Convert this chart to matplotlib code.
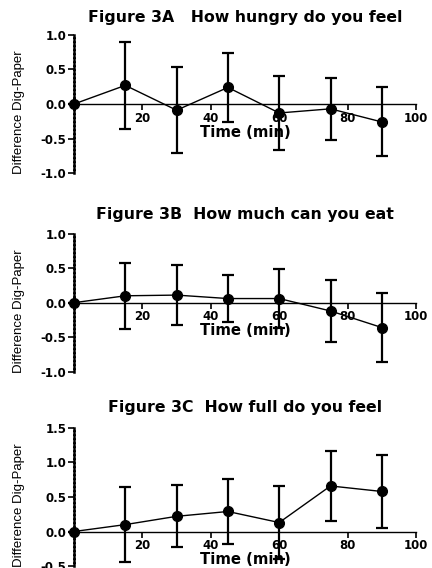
import numpy as np
import matplotlib
matplotlib.use('Agg')
import matplotlib.pyplot as plt

time_min = [0, 15, 30, 45, 60, 75, 90]

hungry_mean = [0, 0.27, -0.09, 0.24, -0.13, -0.07, -0.26]
hungry_err = [0, 0.63, 0.62, 0.50, 0.54, 0.45, 0.50]

eat_mean = [0, 0.10, 0.11, 0.06, 0.06, -0.12, -0.36]
eat_err = [0, 0.48, 0.43, 0.34, 0.43, 0.45, 0.50]

full_mean = [0, 0.10, 0.22, 0.29, 0.13, 0.66, 0.58]
full_err = [0, 0.54, 0.45, 0.47, 0.53, 0.51, 0.53]

titles = ['Figure 3A   How hungry do you feel',
          'Figure 3B  How much can you eat',
          'Figure 3C  How full do you feel']

panels = [
    (hungry_mean, hungry_err, (-1.0, 1.0), [-1.0, -0.5, 0.0, 0.5, 1.0]),
    (eat_mean, eat_err, (-1.0, 1.0), [-1.0, -0.5, 0.0, 0.5, 1.0]),
    (full_mean, full_err, (-0.5, 1.5), [-0.5, 0.0, 0.5, 1.0, 1.5]),
]

bottoms = [0.6954, 0.3456, 0.0035]
title_pads = [9, 10.5, 11.5]

bold_font = 'DejaVu Sans'

fig = plt.figure(figsize=(4.32, 5.68), dpi=100)

for (mean, err, ylim, yt), title, b, tp in zip(panels, titles, bottoms, title_pads):
    ax = fig.add_axes([0.1713, b, 0.7917, 0.243])
    ax.errorbar(time_min, mean, yerr=err, fmt='o-', color='black',
                ms=7, lw=1, elinewidth=1.6, capsize=4, capthick=1.6,
                clip_on=False, zorder=3)
    ax.set_xlim(0, 100)
    ax.set_ylim(*ylim)
    ax.set_xticks([20, 40, 60, 80, 100])
    ax.set_yticks(yt)
    ax.set_yticklabels(['%.1f' % v for v in yt])
    ax.spines['top'].set_visible(False)
    ax.spines['right'].set_visible(False)
    ax.spines['bottom'].set_position(('data', 0))
    ax.spines['left'].set_position(('data', 0))
    ax.spines['bottom'].set_linestyle((0, (1, 1)))
    ax.spines['bottom'].set_linewidth(1.0)
    ax.spines['left'].set_linestyle((0, (1, 0.6)))
    ax.spines['left'].set_linewidth(1.8)
    ax.tick_params(axis='both', direction='out', length=4, width=1.2,
                   labelsize=8.5, pad=1.5)
    for lab in ax.get_xticklabels() + ax.get_yticklabels():
        lab.set_fontweight('bold')
        lab.set_family(bold_font)
    ax.set_xlabel('Time (min)', fontsize=10.7, fontweight='bold',
                  family=bold_font, labelpad=0)
    ax.set_ylabel('Difference Dig-Paper', fontsize=9.5,
                  family='Liberation Sans')
    ax.yaxis.set_label_coords(-0.143, 0.44)
    ax.set_title(title, fontsize=11.3, fontweight='bold',
                 family=bold_font, pad=tp)

fig.savefig('out.png', dpi=100)
